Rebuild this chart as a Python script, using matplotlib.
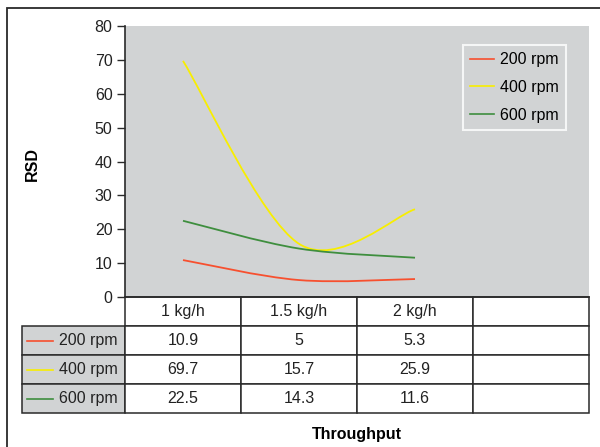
import numpy as np
import matplotlib
matplotlib.use("Agg")
import matplotlib.pyplot as plt
from matplotlib.path import Path
from matplotlib.patches import PathPatch, Rectangle
from matplotlib.lines import Line2D

plt.rcParams['font.family'] = ['Liberation Sans', 'DejaVu Sans']

# data
categories = ['1 kg/h', '1.5 kg/h', '2 kg/h', '']
series = ['200 rpm', '400 rpm', '600 rpm']
rsd_200 = [10.9, 5, 5.3]
rsd_400 = [69.7, 15.7, 25.9]
rsd_600 = [22.5, 14.3, 11.6]
values = [rsd_200, rsd_400, rsd_600]
colors = ['#F7502F', '#F8EE00', '#3E8E3E']
gray = '#D1D3D4'
edge = '#2A2A2A'
fs = 11.5


def smooth_path(xs, ys):
    # excel-like smoothed line: cubic bezier through the points
    pts = np.column_stack([xs, ys]).astype(float)
    n = len(pts)
    verts = [pts[0]]
    codes = [Path.MOVETO]
    for i in range(n - 1):
        p0 = pts[i - 1] if i > 0 else pts[i]
        p1 = pts[i]
        p2 = pts[i + 1]
        p3 = pts[i + 2] if i + 2 < n else pts[i + 1]
        verts += [p1 + (p2 - p0) / 6, p2 - (p3 - p1) / 6, p2]
        codes += [Path.CURVE4] * 3
    return Path(verts, codes)


W, H = 600, 447
fig = plt.figure(figsize=(W / 100, H / 100), dpi=100)
ax_l, ax_r, ax_t, ax_b = 125, 589, 26, 297
aw, ah = ax_r - ax_l, ax_b - ax_t
ax = fig.add_axes([ax_l / W, 1 - ax_b / H, aw / W, ah / H])
ax.set_facecolor(gray)

x = np.arange(1, len(rsd_200) + 1)
for vals, c in zip(values, colors):
    ax.add_patch(PathPatch(smooth_path(x, vals), fill=False, ec=c, lw=1.3, zorder=3))

ax.set_xlim(0.5, len(categories) + 0.5)
ax.set_ylim(0, 80)
ax.set_yticks(range(0, 81, 10))
ax.set_xticks([])
ax.tick_params(axis='y', direction='out', length=6, width=1, color=edge,
               labelsize=fs, labelcolor='#222222', pad=3)
for s in ['top', 'right']:
    ax.spines[s].set_visible(False)
for s in ['left', 'bottom']:
    ax.spines[s].set_color(edge)
    ax.spines[s].set_linewidth(1.2)

ax.set_ylabel('RSD', fontsize=fs, fontweight='bold')
ax.yaxis.set_label_coords((40 - ax_l) / aw, (ax_b - 164) / ah)

handles = [Line2D([], [], color=c, lw=1.2) for c in colors]
leg = ax.legend(handles, series, loc='upper right',
                bbox_to_anchor=((566 - ax_l) / aw, (ax_b - 45) / ah),
                borderaxespad=0, fontsize=fs, frameon=True, fancybox=False,
                handlelength=1.5, labelspacing=0.8, borderpad=0.45,
                handletextpad=0.4)
leg.get_frame().set_facecolor(gray)
leg.get_frame().set_edgecolor('white')
leg.get_frame().set_linewidth(1.5)

# data table under the plot
lab_w = 103.3 / aw
row_h = 29.0
tab_h = row_h * (len(series) + 1) / ah
cell_text = [[f'{v:g}' for v in vals] + [''] * (len(categories) - len(vals)) for vals in values]
tb = ax.table(cellText=cell_text, rowLabels=series, colLabels=categories,
              cellLoc='center', rowLoc='right', colLoc='center',
              colWidths=[1 / len(categories)] * len(categories),
              bbox=[0, -tab_h, 1, tab_h])
tb.auto_set_font_size(False)
tb.set_fontsize(fs)
tb._autoColumns = []
for (r, c), cell in tb.get_celld().items():
    cell.set_linewidth(1.1)
    cell.set_edgecolor(edge)
    cell.get_text().set_color('#222222')
    if c == -1:
        cell.set_width(lab_w)
        cell.set_facecolor(gray)
        cell.PAD = 0.07
    else:
        cell.set_facecolor('white')

# little series keys inside the row label cells
for i, c in enumerate(colors):
    yc = -(row_h * (i + 1) + row_h / 2) / ah
    ax.plot([(27 - ax_l) / aw, (53 - ax_l) / aw], [yc, yc], color=c, lw=1.2,
            transform=ax.transAxes, clip_on=False)

fig.text((ax_l + ax_r) / 2 / W, 1 - 434 / H, 'Throughput', ha='center', va='center',
         fontsize=fs, fontweight='bold')

# outer frame
fig.add_artist(Rectangle((7 / W, -0.1), 1.2, 1 - 8 / H + 0.1, transform=fig.transFigure,
                         fill=False, ec=edge, lw=1.3))

fig.savefig('out.png', dpi=100)
